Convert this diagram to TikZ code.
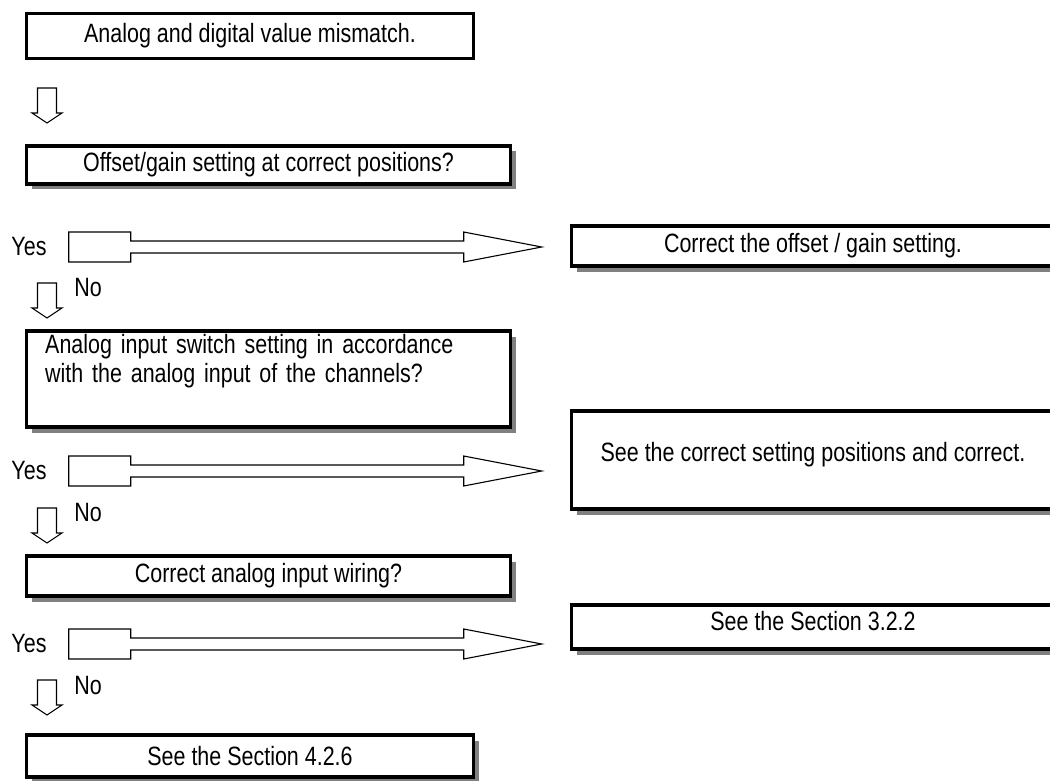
\documentclass[tikz,border=0pt]{standalone}
\usepackage{fontspec}
\setmainfont[FakeStretch=0.81]{Liberation Sans}
\usetikzlibrary{positioning,shadows,calc}

\begin{document}
\begin{tikzpicture}[
  x=1pt, y=-1pt,
  font=\fontsize{26.5}{29}\selectfont,
  qbox/.style={rectangle, draw=black, line width=3.2pt, fill=white,
               inner sep=0pt, align=center},
  shad/.style={drop shadow={shadow xshift=5.5pt, shadow yshift=-5.5pt,
               fill=black!50, opacity=1}},
  lbl/.style={inner sep=0pt},
  blk/.style={draw=black, line width=1.1pt, fill=white, line join=miter},
  downarr/.pic={
    \draw[blk] (-9.5,0) -- (-9.5,25) -- (-15,25) -- (0,35) -- (15,25)
               -- (9.5,25) -- (9.5,0) -- cycle;},
  yesarr/.pic={
    \draw[blk] (0,-15) -- (62,-15) -- (62,-6) -- (395,-6) -- (395,-15)
               -- (473,0) -- (395,15) -- (395,6) -- (62,6) -- (62,15)
               -- (0,15) -- cycle;}
]
\useasboundingbox (0,0) rectangle (1050,781);
\fill[white] (0,0) rectangle (1050,781);
\clip (0,0) rectangle (1050,781);

% Start
\node[qbox, minimum width=447pt, minimum height=45pt] (start) at (250,36)
  {Analog and digital value mismatch.};
\pic at (47,88) {downarr};

% Check 1: offset / gain
\node[qbox, shad, minimum width=484pt, minimum height=38pt] (chk1) at (268.5,165)
  {Offset/gain setting at correct positions?};
\node[lbl] (yes1) at (29,247) {Yes};
\pic at ([xshift=22pt]yes1.east) {yesarr};
\node[qbox, shad, minimum width=483pt, minimum height=40pt] (fix1) at (813,246)
  {Correct the offset / gain setting.};
\pic at (47,283) {downarr};
\node[lbl] (no1) at (88,288) {No};

% Check 2: input switch
\node[qbox, shad, minimum width=484pt, minimum height=96pt] (chk2) at (268.5,379) {};
\node[lbl, anchor=north west, text width=445pt, align=left] (chk2txt) at (45,334)
  {\makebox[445pt][s]{Analog input switch setting in accordance}\\
   with the analog input of the channels?};
\node[lbl] (yes2) at (29,471) {Yes};
\pic at ([xshift=22pt]yes2.east) {yesarr};
\node[qbox, shad, minimum width=483pt, minimum height=98pt] (fix2) at (813,460) {};
\node[lbl] (fix2txt) at (813,455) {See the correct setting positions and correct.};
\pic at (47,508) {downarr};
\node[lbl] (no2) at (88,513) {No};

% Check 3: wiring
\node[qbox, shad, minimum width=484pt, minimum height=40pt] (chk3) at (268.5,576)
  {Correct analog input wiring?};
\node[lbl] (yes3) at (29,644) {Yes};
\pic at ([xshift=22pt]yes3.east) {yesarr};
\node[qbox, shad, minimum width=483pt, minimum height=44pt] (fix3) at (813,627) {};
\node[lbl] (fix3txt) at (813,621) {See the Section 3.2.2};
\pic at (47,680) {downarr};
\node[lbl] (no3) at (88,686) {No};

% End
\node[qbox, shad, minimum width=447pt, minimum height=42pt] (fin) at (250,756)
  {See the Section 4.2.6};
\end{tikzpicture}
\end{document}
